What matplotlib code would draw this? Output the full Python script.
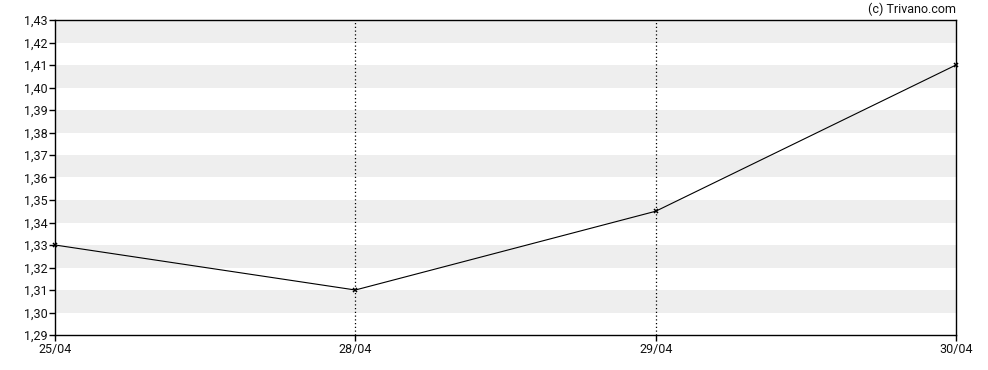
import matplotlib
matplotlib.use("Agg")
import matplotlib.pyplot as plt
import numpy as np

dates = ["25/04", "28/04", "29/04", "30/04"]
values = [1.33, 1.31, 1.345, 1.41]
yticks = [1.29, 1.30, 1.31, 1.32, 1.33, 1.34, 1.35, 1.36, 1.37, 1.38, 1.39, 1.40, 1.41, 1.42, 1.43]

plt.rcParams['font.family'] = ['Roboto', 'DejaVu Sans']
fig = plt.figure(figsize=(9.88, 3.70), dpi=100)
ax = fig.add_axes([55/988, 35/370, 901/988, 315/370])

x = np.arange(len(dates))
ax.set_xlim(x[0], x[-1])
ax.set_ylim(yticks[0], yticks[-1])

for i in range(1, len(yticks) - 1, 2):
    ax.axhspan(yticks[i], yticks[i + 1], color="#eeeeee", zorder=0, lw=0)

for xi in x[1:-1]:
    ax.axvline(xi, color="black", lw=0.9, ls=(0, (1, 2)), zorder=1)

ax.plot(x, values, color="black", lw=0.8, marker="x", ms=3.5, mew=1.1, zorder=3, clip_on=False)

ax.set_xticks(x)
ax.set_xticklabels(dates, fontsize=9)
ax.set_yticks(yticks)
ax.set_yticklabels([f"{v:.2f}".replace(".", ",") for v in yticks], fontsize=9)
ax.tick_params(axis="both", length=4, width=1, color="black", labelcolor="#111111", pad=1.5)
for s in ax.spines.values():
    s.set_linewidth(1)
    s.set_color("black")

fig.text(956/988, 1 - 9/370, "(c) Trivano.com", ha="right", va="center", fontsize=9, color="#111111")

fig.savefig("out.png", dpi=100)
